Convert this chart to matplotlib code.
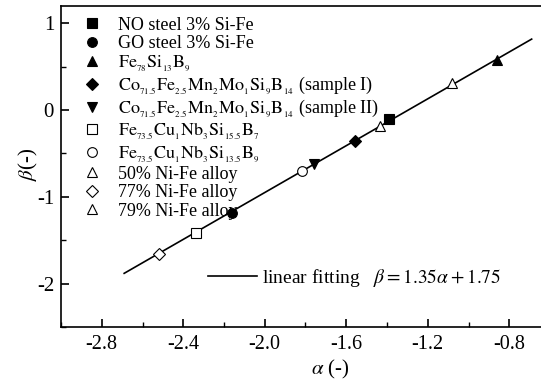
import matplotlib
matplotlib.use("Agg")
import matplotlib.pyplot as plt
import numpy as np
from matplotlib.lines import Line2D

plt.rcParams['font.family'] = ['Liberation Serif', 'DejaVu Serif']
plt.rcParams['mathtext.fontset'] = 'stix'


def chem(parts):
    body = ''.join(el + '_{_{' + n + '}}' for el, n in parts)
    return r'$\mathrm{' + body + '}$'


labels = [
    'NO steel 3% Si-Fe',
    'GO steel 3% Si-Fe',
    chem([('Fe', '78'), ('Si', '13'), ('B', '9')]),
    chem([('Co', '71.5'), ('Fe', '2.5'), ('Mn', '2'), ('Mo', '1'), ('Si', '9'), ('B', '14')]) + ' (sample I)',
    chem([('Co', '71.5'), ('Fe', '2.5'), ('Mn', '2'), ('Mo', '1'), ('Si', '9'), ('B', '14')]) + ' (sample II)',
    chem([('Fe', '73.5'), ('Cu', '1'), ('Nb', '3'), ('Si', '15.5'), ('B', '7')]),
    chem([('Fe', '73.5'), ('Cu', '1'), ('Nb', '3'), ('Si', '13.5'), ('B', '9')]),
    '50% Ni-Fe alloy',
    '77% Ni-Fe alloy',
    '79% Ni-Fe alloy',
]
alpha_vals = [-1.39, -2.16, -0.86, -1.555, -1.76, -2.335, -1.815, -1.08, -2.52, -1.435]
beta_vals = [-0.10, -1.19, 0.58, -0.355, -0.62, -1.415, -0.705, 0.31, -1.66, -0.185]
markers = ['s', 'o', '^', 'D', 'v', 's', 'o', '^', 'D', '^']
filled = [True, True, True, True, True, False, False, False, False, False]
msizes = [6.5, 7, 7.5, 6.5, 7.5, 6.5, 7, 7.5, 6.5, 7.5]

fit_slope = 1.35
fit_intercept = 1.75
fit_range = [-2.69, -0.69]

fig = plt.figure(figsize=(5.41, 3.82), dpi=100)
ax = fig.add_axes([61/541, 1-327/382, 489/541, 321/382])

xf = np.linspace(fit_range[0], fit_range[1], 50)
ax.plot(xf, fit_slope*xf + fit_intercept, color='black', lw=1.2, zorder=2)

handles = []
for a, b, m, f, ms, lab in zip(alpha_vals, beta_vals, markers, filled, msizes, labels):
    fc = 'black' if f else 'white'
    ax.plot([a], [b], marker=m, ms=ms, mfc=fc, mec='black', mew=0.8, ls='none', zorder=3)
    handles.append(Line2D([], [], marker=m, ms=ms, mfc=fc, mec='black', mew=0.8, ls='none', label=lab))

leg1 = ax.legend(handles=handles, loc='upper left', bbox_to_anchor=(0.044, 0.967),
                 frameon=False, fontsize=13, handlelength=1.0, handletextpad=0.95,
                 labelspacing=0.09, borderaxespad=0, borderpad=0)
ax.add_artist(leg1)

fit_handle = Line2D([], [], color='black', lw=1.2,
                    label=r'linear fitting   $\beta = 1.35\alpha + 1.75$')
ax.legend(handles=[fit_handle], loc='center left', bbox_to_anchor=(147/489, 1-(277.7-6)/321),
          frameon=False, fontsize=14, handlelength=2.5, handletextpad=0.3,
          borderaxespad=0, borderpad=0)

ax.set_xlim(-3.0, -0.6)
ax.set_ylim(-2.5, 1.2)
ax.set_xticks([-2.8, -2.4, -2.0, -1.6, -1.2, -0.8])
ax.set_xticklabels(['-2.8', '-2.4', '-2.0', '-1.6', '-1.2', '-0.8'])
ax.set_xticks(np.arange(-3.0, -0.55, 0.2), minor=True)
ax.set_yticks([-2, -1, 0, 1])
ax.set_yticklabels(['-2', '-1', '0', '1'])
ax.set_yticks([-2.5, -1.5, -0.5, 0.5], minor=True)
ax.tick_params(axis='both', which='major', direction='in', length=6, width=1.2)
ax.tick_params(axis='both', which='minor', direction='in', length=3.5, width=1.0)
ax.tick_params(axis='x', labelsize=14.5, pad=6)
ax.tick_params(axis='y', labelsize=15, pad=5)
for s in ax.spines.values():
    s.set_linewidth(1.2)

ax.set_xlabel(r'$\alpha$ (-)', fontsize=15)
ax.set_ylabel(r'$\beta$(-)', fontsize=15)
ax.xaxis.set_label_coords((330-61)/489, (327-358)/321)
ax.yaxis.set_label_coords((40-61)/489, (327-164.5)/321)

fig.savefig('out.png', dpi=100)
